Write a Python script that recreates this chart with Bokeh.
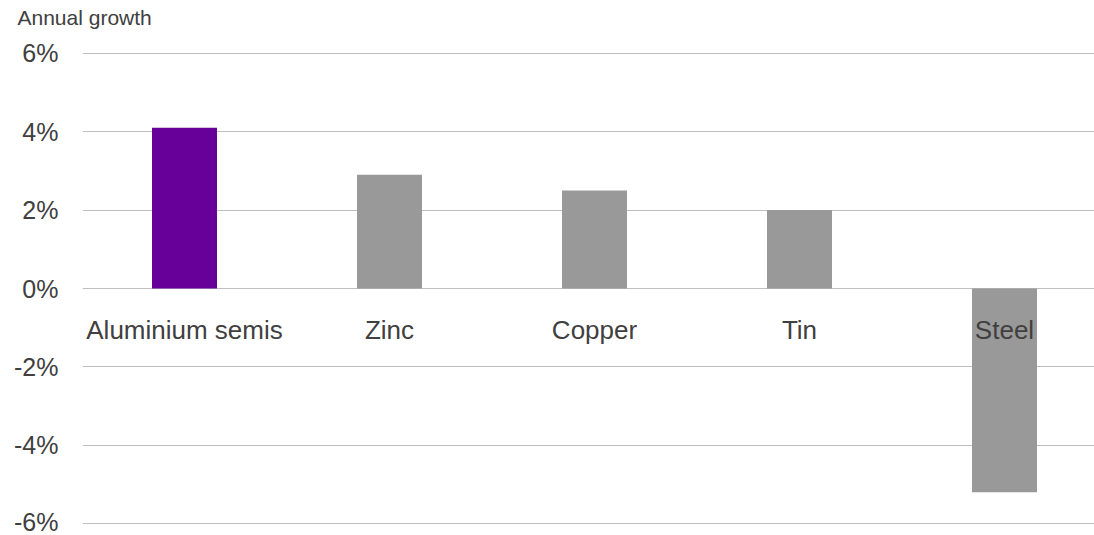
from bokeh.plotting import figure
from bokeh.models import Range1d, FixedTicker, PrintfTickFormatter, Title, ColumnDataSource
from bokeh.core.properties import value
from bokeh.embed import file_html
from bokeh.resources import INLINE

categories = ["Aluminium semis", "Zinc", "Copper", "Tin", "Steel"]
growth = [4.1, 2.9, 2.5, 2.0, -5.2]
y_ticks = [-6, -4, -2, 0, 2, 4, 6]
bar_colors = ["#660099", "#999999", "#999999", "#999999", "#999999"]

FONT = "Liberation Sans"
TXT = "#404040"

src = ColumnDataSource(dict(x=list(range(len(categories))), top=growth,
                            color=bar_colors, label=categories))

p = figure(width=1094, height=535, output_backend="svg", toolbar_location=None,
           x_range=Range1d(-0.4976, 4.439), y_range=Range1d(-6.2, 6.2),
           min_border_left=82, min_border_right=0, min_border_top=45, min_border_bottom=4)
p.outline_line_color = None
p.background_fill_color = "white"
p.border_fill_color = "white"
p.title.visible = False

# spacer between title and plot area
p.add_layout(Title(text=" ", text_font_size="1px", standoff=14), "above")
p.add_layout(Title(text="Annual growth", align="left", offset=-65, standoff=0,
                   text_font=FONT, text_font_size="21px", text_color=TXT,
                   text_font_style="normal"), "above")

p.vbar(x="x", top="top", bottom=0, width=0.317, color="color", source=src, line_color=None)

p.text(x="x", y=0, text="label", source=src, text_align="center",
       text_baseline="alphabetic", y_offset=41.4, text_font=value(FONT),
       text_font_size="26px", text_color=TXT)

p.xaxis.visible = False
p.xgrid.visible = False

ya = p.yaxis[0]
ya.ticker = FixedTicker(ticks=y_ticks)
ya.formatter = PrintfTickFormatter(format="%d%%")
ya.axis_line_color = None
ya.major_tick_line_color = None
ya.minor_tick_line_color = None
ya.major_tick_out = 0
ya.major_tick_in = 0
ya.major_label_standoff = 24
ya.major_label_text_font = FONT
ya.major_label_text_font_size = "25px"
ya.major_label_text_color = TXT

p.ygrid.ticker = FixedTicker(ticks=y_ticks)
p.ygrid.grid_line_color = "#bfbfbf"
p.ygrid.grid_line_width = 1

open("out.html", "w").write(file_html(p, INLINE))
